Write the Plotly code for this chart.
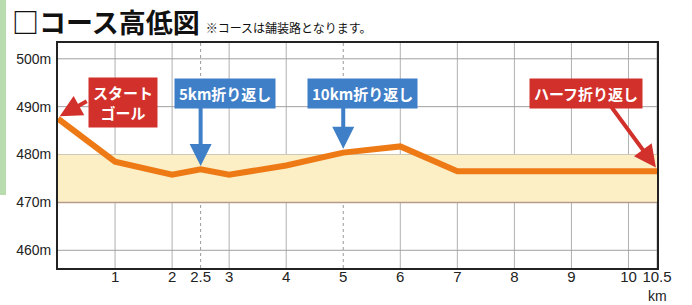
import plotly.graph_objects as go

km = [0, 1, 2, 2.5, 3, 4, 5, 6, 7, 8, 9, 10, 10.5]
elev = [487.5, 478.5, 475.8, 476.9, 475.8, 477.7, 480.4, 481.7, 476.5, 476.5, 476.5, 476.5, 476.5]

x_ticks = [1, 2, 2.5, 3, 4, 5, 6, 7, 8, 9, 10, 10.5]
x_tick_text = ["1", "2", "2.5", "3", "4", "5", "6", "7", "8", "9", "10", "10.5"]
y_ticks = [460, 470, 480, 490, 500]
y_tick_text = ["460m", "470m", "480m", "490m", "500m"]

band = [470, 480]

fig = go.Figure()

fig.add_shape(type="rect", xref="x", yref="y", x0=0, x1=10.5, y0=band[0], y1=band[1],
              fillcolor="#fcefc6", line_width=0, layer="below")
fig.add_shape(type="line", xref="x", yref="y", x0=0, x1=10.5, y0=band[0], y1=band[0],
              line=dict(color="#b89a8a", width=1.5), layer="below")

for t in x_ticks:
    dotted = t in (2.5, 5)
    fig.add_shape(type="line", xref="x", yref="paper", x0=t, x1=t, y0=0, y1=1,
                  line=dict(color="#9a9a9a" if dotted else "#b0b0b0", width=1,
                            dash="dot" if dotted else "solid"), layer="below")
for t in y_ticks:
    fig.add_shape(type="line", xref="paper", yref="y", x0=0, x1=1, y0=t, y1=t,
                  line=dict(color="#a0a0a0", width=1), layer="below")

fig.add_trace(go.Scatter(x=km, y=elev, mode="lines",
                         line=dict(color="#ee7a16", width=6), hoverinfo="skip"))

font_box = dict(family="Noto Sans CJK JP", size=15, color="white")
red = "#d2302a"
blue = "#3f7fc8"

arrows = [
    (0.53, 491.3, 0.03, 488.0, red),
    (2.5, 494.0, 2.5, 477.6, blue),
    (5.0, 494.0, 5.0, 481.2, blue),
    (9.45, 494.0, 10.48, 477.3, red),
]
for ax_, ay_, x_, y_, c in arrows:
    fig.add_annotation(x=x_, y=y_, ax=ax_, ay=ay_, xref="x", yref="y", axref="x", ayref="y",
                       text="", showarrow=True, arrowhead=2, arrowsize=1.1, arrowwidth=4,
                       arrowcolor=c)

boxes = [
    (1.14, 490.8, "<b>スタート<br>ゴール</b>", red),
    (2.93, 492.8, "<b>5km折り返し</b>", blue),
    (5.33, 492.8, "<b>10km折り返し</b>", blue),
    (9.25, 492.8, "<b>ハーフ折り返し</b>", red),
]
for x_, y_, t, c in boxes:
    fig.add_annotation(x=x_, y=y_, xref="x", yref="y", text=t, showarrow=False,
                       bgcolor=c, font=font_box, borderpad=4, align="center")

fig.add_annotation(xref="paper", yref="paper", x=-48 / 599, y=(268 - 21) / 225, xanchor="left",
                   yanchor="middle",
                   text="<b>□コース高低図</b> <span style='font-size:12px'>※コースは舗装路となります。</span>",
                   showarrow=False, font=dict(family="Noto Sans CJK JP", size=27, color="#111"))

fig.add_annotation(xref="x", yref="paper", x=10.5, y=(268 - 296) / 225, text="km",
                   showarrow=False, yanchor="middle",
                   font=dict(family="Liberation Sans Narrow, Arial Narrow, sans-serif", size=14, color="#222"))

fig.add_shape(type="rect", xref="paper", yref="paper", x0=-58 / 599, x1=-52 / 599,
              y0=(268 - 195) / 225, y1=1.3, fillcolor="#b8dcae", line_width=0)

fig.update_layout(
    width=692, height=305,
    margin=dict(l=58, r=35, t=43, b=37),
    paper_bgcolor="white", plot_bgcolor="white",
    showlegend=False,
    xaxis=dict(range=[0, 10.5], tickvals=x_ticks, ticktext=x_tick_text, showgrid=False,
               zeroline=False, showline=True, linecolor="#222", linewidth=2, mirror=True,
               ticks="", ticklabelstandoff=-6,
               tickfont=dict(family="Liberation Sans Narrow, Arial Narrow, sans-serif", size=15, color="#222")),
    yaxis=dict(range=[456.3, 503.3], tickvals=y_ticks, ticktext=y_tick_text, showgrid=False,
               zeroline=False, showline=True, linecolor="#222", linewidth=2, mirror=True,
               ticks="", ticklabelstandoff=2,
               tickfont=dict(family="Liberation Sans Narrow, Arial Narrow, sans-serif", size=14, color="#222")),
)

fig.write_html("out.html", config={"displayModeBar": False},
               post_script="document.body.style.margin='0';document.body.style.overflow='hidden';")
